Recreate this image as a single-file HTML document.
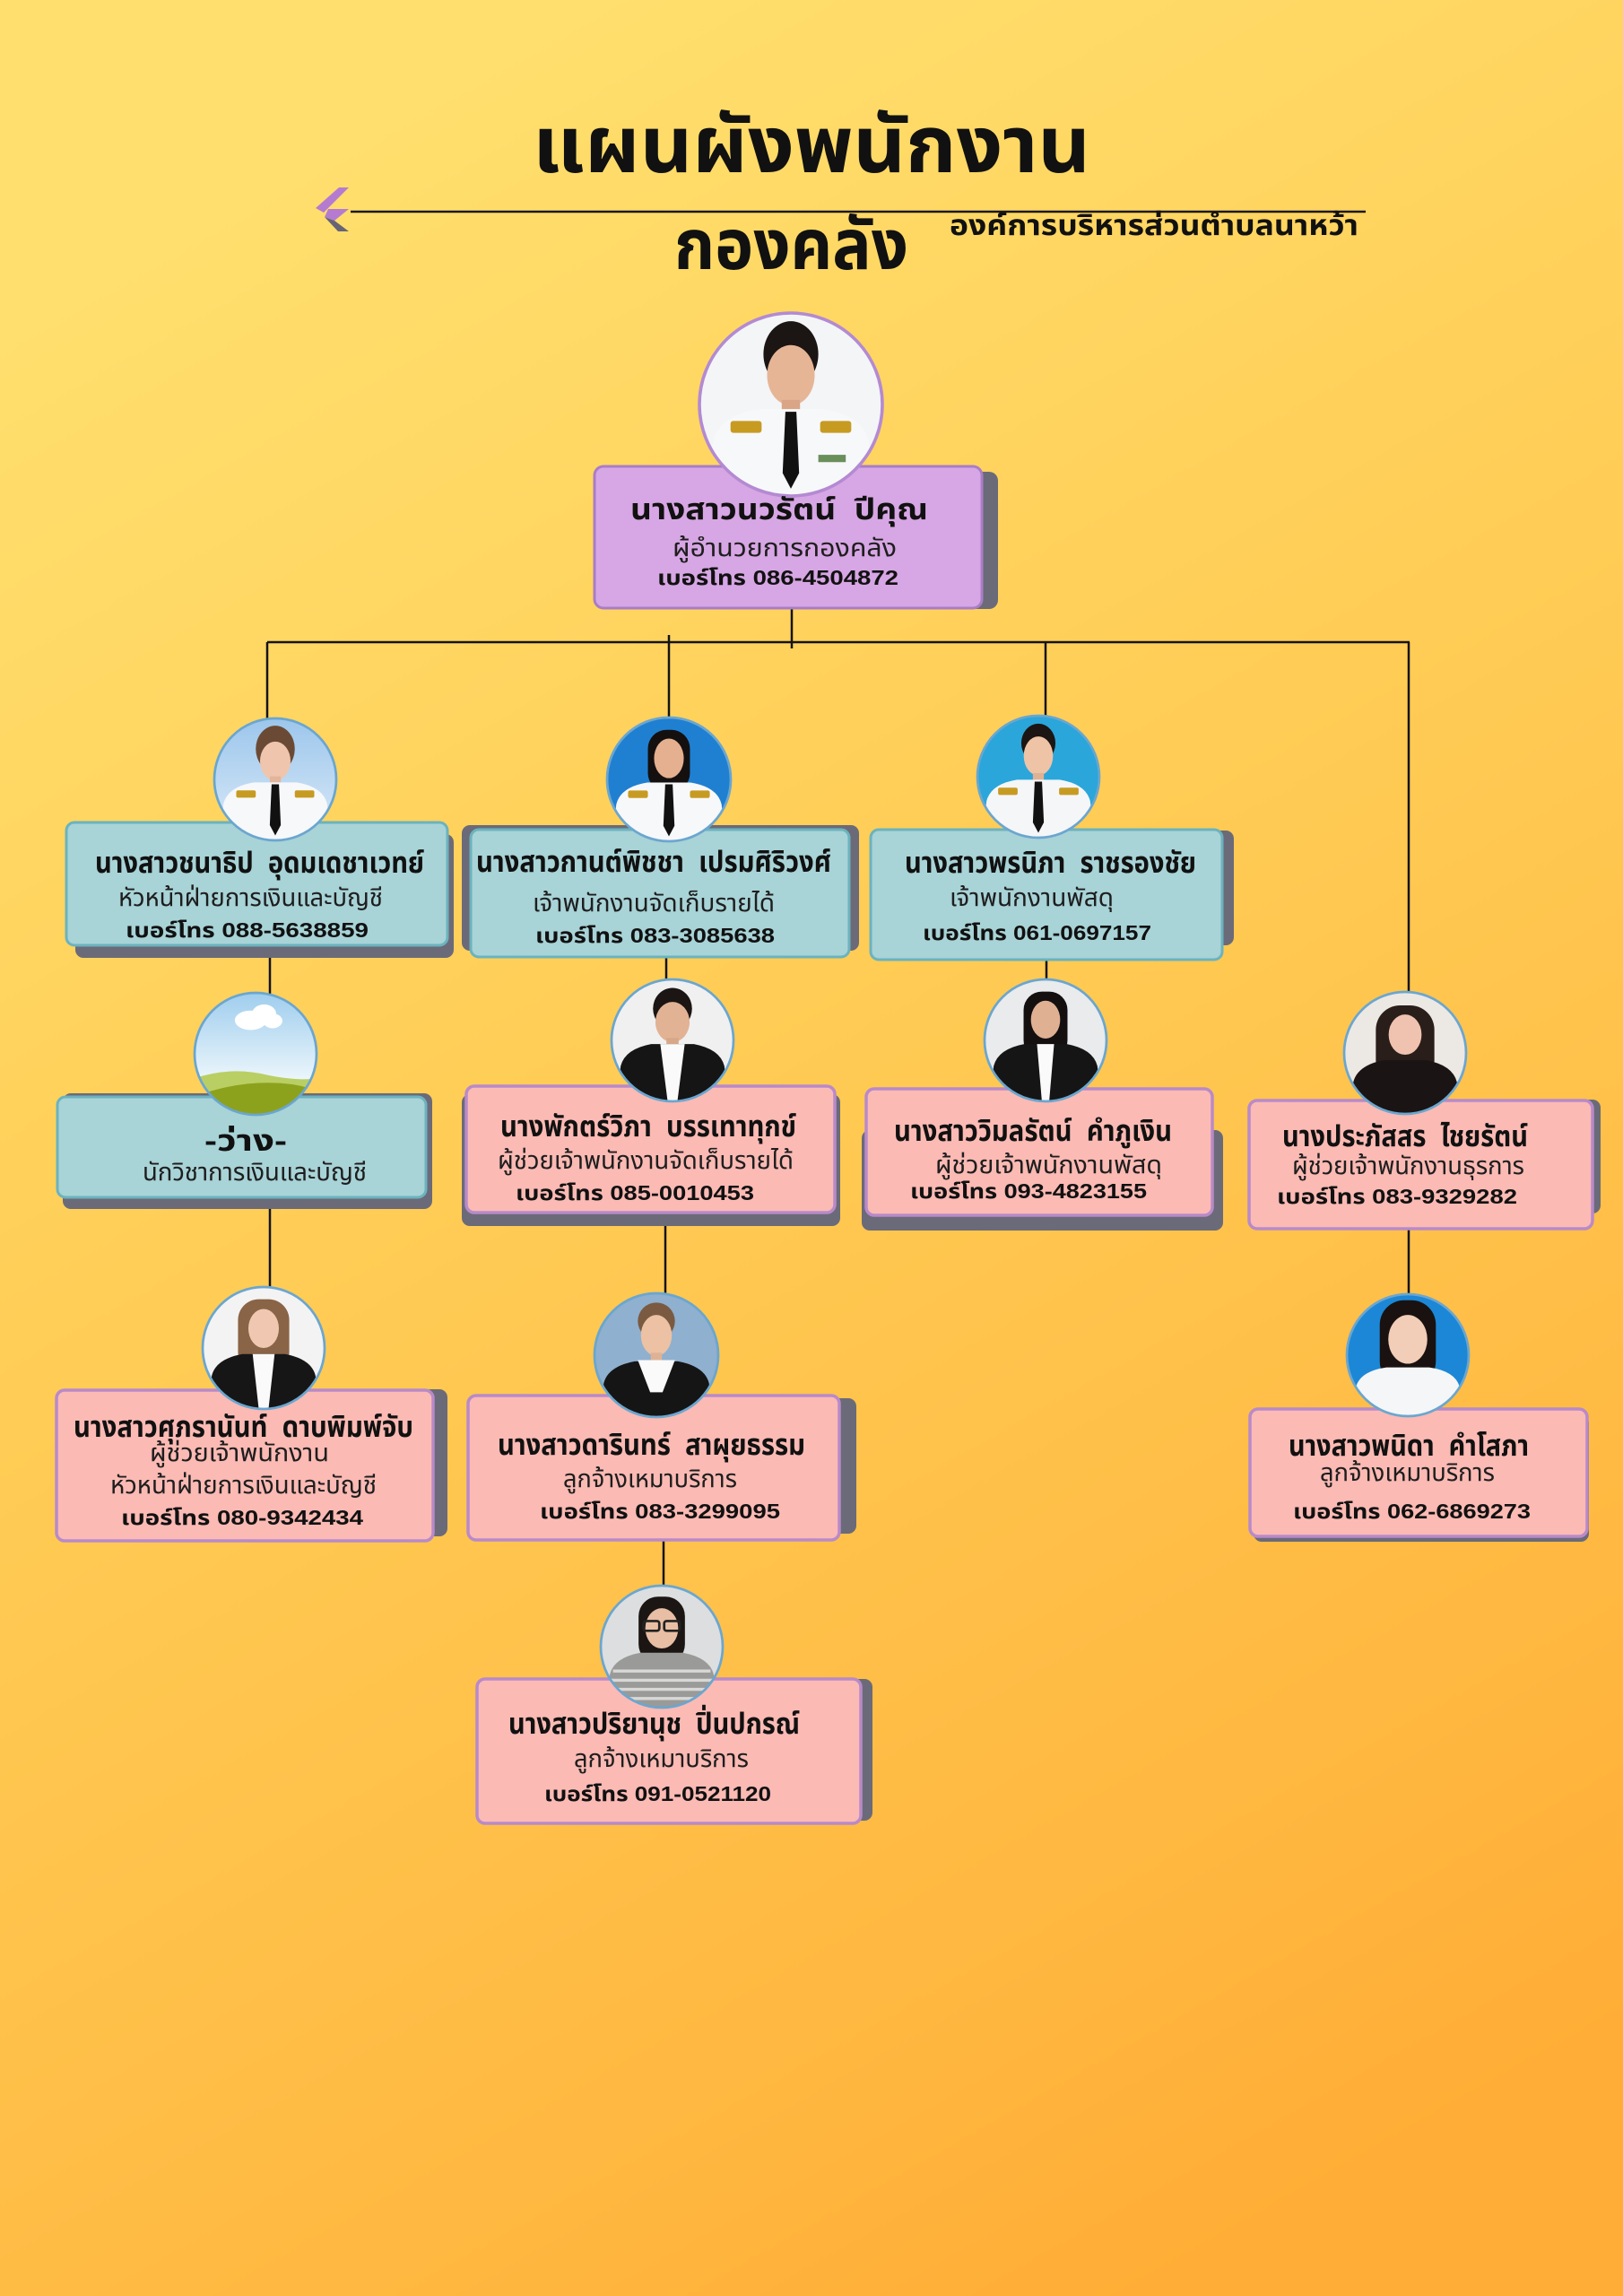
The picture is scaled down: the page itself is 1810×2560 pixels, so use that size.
<!DOCTYPE html>
<html><head><meta charset="utf-8"><style>
html,body{margin:0;padding:0;width:1810px;height:2560px;overflow:hidden;}
svg{display:block}
.t{font-family:"Liberation Sans","Noto Sans Thai","Noto Sans Thai UI","Loma","Garuda","Tlwg Typist","Kinnari","Waree","Sawasdee","Umpush","Norasi","DejaVu Sans",sans-serif;fill:#111;white-space:pre}
.n{font-weight:bold;font-size:33px}
.r{font-weight:normal;font-size:28px;fill:#1e1e1e}
.p{font-weight:bold;font-size:23px}
</style></head><body>
<svg width="1810" height="2560" viewBox="0 0 1810 2560" xmlns="http://www.w3.org/2000/svg">
<defs>
<linearGradient id="bg" x1="0.3" y1="0" x2="0.7" y2="1">
<stop offset="0" stop-color="#FFE06F"/><stop offset="0.4" stop-color="#FFCE57"/><stop offset="0.85" stop-color="#FFB740"/><stop offset="1" stop-color="#FFAD36"/>
</linearGradient>
<linearGradient id="sky" x1="0" y1="0" x2="0" y2="1"><stop offset="0" stop-color="#9fcdee"/><stop offset="0.7" stop-color="#eaf5fb"/></linearGradient>
<linearGradient id="bluebg" x1="0" y1="0" x2="0" y2="1"><stop offset="0" stop-color="#9cc6ec"/><stop offset="1" stop-color="#dcebf8"/></linearGradient>
<clipPath id="c"><circle cx="0" cy="0" r="100"/></clipPath>
</defs>
<rect width="1810" height="2560" fill="url(#bg)"/>

<!-- Title -->
<text class="t" x="594" y="192" font-weight="bold" font-size="88" textLength="622" lengthAdjust="spacingAndGlyphs">แผนผังพนักงาน</text>
<line x1="391" y1="236" x2="1523" y2="236" stroke="#1a1a1a" stroke-width="2.5"/>
<polygon points="378,209 389,209 361,237 352,232" fill="#B57BD0"/>
<polygon points="366,233 389,233 373,246 362,242" fill="#B57BD0"/>
<polygon points="362,242 373,246 389,258 377,258" fill="#676475"/>
<text class="t" x="752" y="300" font-weight="bold" font-size="78" textLength="261" lengthAdjust="spacingAndGlyphs">กองคลัง</text>
<text class="t" x="1059" y="262" font-weight="bold" font-size="32" textLength="456" lengthAdjust="spacingAndGlyphs">องค์การบริหารส่วนตำบลนาหว้า</text>

<!-- Connectors -->
<g stroke="#141414" stroke-width="2.5" fill="none">
<line x1="883" y1="678" x2="883" y2="723"/>
<line x1="298" y1="716" x2="1572" y2="716"/>
<line x1="298" y1="716" x2="298" y2="805"/>
<line x1="746" y1="708" x2="746" y2="805"/>
<line x1="1166" y1="716" x2="1166" y2="800"/>
<line x1="1571" y1="716" x2="1571" y2="1110"/>
<line x1="301" y1="1054" x2="301" y2="1110"/>
<line x1="301" y1="1335" x2="301" y2="1438"/>
<line x1="743" y1="1067" x2="743" y2="1095"/>
<line x1="742" y1="1352" x2="742" y2="1445"/>
<line x1="740" y1="1717" x2="740" y2="1770"/>
<line x1="1167" y1="1070" x2="1167" y2="1095"/>
<line x1="1571" y1="1370" x2="1571" y2="1445"/>
</g>

<!-- Shadows -->
<g fill="#6B6A79">
<rect x="681" y="526" width="432" height="153" rx="10"/>
<rect x="84" y="930" width="422" height="138" rx="9"/>
<rect x="515" y="920" width="443" height="140" rx="9"/>
<rect x="985" y="926" width="391" height="128" rx="9"/>
<rect x="70" y="1219" width="412" height="129" rx="9"/>
<rect x="515" y="1220" width="422" height="147" rx="9"/>
<rect x="961" y="1260" width="403" height="112" rx="9"/>
<rect x="1400" y="1226" width="385" height="127" rx="9"/>
<rect x="70" y="1549" width="429" height="164" rx="9"/>
<rect x="530" y="1559" width="425" height="151" rx="9"/>
<rect x="1398" y="1578" width="374" height="141" rx="9"/>
<rect x="540" y="1872" width="433" height="158" rx="9"/>
</g>

<!-- Boxes -->
<rect x="663" y="520" width="432" height="158" rx="10" fill="#D7A6E4" stroke="#A97DC7" stroke-width="3"/>
<g fill="#A8D3D7" stroke="#6BB3BE" stroke-width="3">
<rect x="74" y="917" width="425" height="137" rx="9"/>
<rect x="525" y="925" width="422" height="142" rx="9"/>
<rect x="971" y="925" width="392" height="145" rx="9"/>
<rect x="64" y="1223" width="411" height="112" rx="9"/>
</g>
<g fill="#FBBAB4" stroke="#B98AC9" stroke-width="3.5">
<rect x="520" y="1211" width="411" height="141" rx="9"/>
<rect x="966" y="1214" width="386" height="141" rx="9"/>
<rect x="1393" y="1227" width="383" height="143" rx="9"/>
<rect x="63" y="1550" width="420" height="168" rx="9"/>
<rect x="522" y="1556" width="414" height="161" rx="9"/>
<rect x="1394" y="1571" width="376" height="142" rx="9"/>
<rect x="532" y="1872" width="428" height="161" rx="9"/>
</g>

<!-- Photos -->
<!-- T -->
<g transform="translate(882,451) scale(1.02)"><g clip-path="url(#c)">
<rect x="-100" y="-100" width="200" height="200" fill="#f3f5f7"/>
<ellipse cx="0" cy="-55" rx="30" ry="36" fill="#1b1513"/>
<ellipse cx="0" cy="-32" rx="26" ry="33" fill="#e6b596"/>
<rect x="-10" y="-5" width="20" height="16" fill="#d9a586"/>
<path d="M-92,100 L-85,40 Q-78,12 -35,5 L35,5 Q78,12 85,40 L92,100Z" fill="#f7f8fa"/>
<path d="M-6,8 L6,8 L9,75 L0,92 L-9,75Z" fill="#111"/>
<rect x="-66" y="18" width="34" height="13" rx="3" fill="#c79b22"/><rect x="32" y="18" width="34" height="13" rx="3" fill="#c79b22"/>
<rect x="30" y="55" width="30" height="8" fill="#6a8f5a"/>
</g><circle r="100" fill="none" stroke="#B48AD2" stroke-width="3.5"/></g>

<!-- A -->
<g transform="translate(307,869) scale(0.68)"><g clip-path="url(#c)">
<rect x="-100" y="-100" width="200" height="200" fill="url(#bluebg)"/>
<ellipse cx="0" cy="-50" rx="32" ry="38" fill="#6b4a35"/>
<ellipse cx="0" cy="-30" rx="25" ry="32" fill="#efc6ad"/>
<rect x="-9" y="-5" width="18" height="16" fill="#e3b59a"/>
<path d="M-92,100 L-85,40 Q-78,12 -35,5 L35,5 Q78,12 85,40 L92,100Z" fill="#f7f8fa"/>
<path d="M-6,8 L6,8 L9,75 L0,92 L-9,75Z" fill="#111"/>
<rect x="-64" y="18" width="32" height="12" rx="3" fill="#c79b22"/><rect x="32" y="18" width="32" height="12" rx="3" fill="#c79b22"/>
</g><circle r="100" fill="none" stroke="#6BA6CF" stroke-width="4"/></g>

<!-- B -->
<g transform="translate(746,869) scale(0.69)"><g clip-path="url(#c)">
<rect x="-100" y="-100" width="200" height="200" fill="#1f80d2"/>
<rect x="-34" y="-80" width="68" height="100" rx="30" fill="#141010"/>
<ellipse cx="0" cy="-34" rx="24" ry="32" fill="#e4b08f"/>
<path d="M-92,100 L-85,40 Q-78,12 -35,5 L35,5 Q78,12 85,40 L92,100Z" fill="#f7f8fa"/>
<path d="M-6,8 L6,8 L9,75 L0,92 L-9,75Z" fill="#111"/>
<rect x="-66" y="18" width="32" height="12" rx="3" fill="#c79b22"/><rect x="34" y="18" width="32" height="12" rx="3" fill="#c79b22"/>
</g><circle r="100" fill="none" stroke="#6BA6CF" stroke-width="4"/></g>

<!-- C -->
<g transform="translate(1158,866) scale(0.68)"><g clip-path="url(#c)">
<rect x="-100" y="-100" width="200" height="200" fill="#2aa6da"/>
<ellipse cx="0" cy="-55" rx="28" ry="32" fill="#1b1513"/>
<ellipse cx="0" cy="-34" rx="24" ry="32" fill="#efc3a6"/>
<rect x="-9" y="-6" width="18" height="16" fill="#e0b295"/>
<path d="M-92,100 L-85,40 Q-78,12 -35,5 L35,5 Q78,12 85,40 L92,100Z" fill="#f5f6f8"/>
<path d="M-6,8 L6,8 L9,75 L0,92 L-9,75Z" fill="#111"/>
<rect x="-66" y="18" width="32" height="12" rx="3" fill="#c79b22"/><rect x="34" y="18" width="32" height="12" rx="3" fill="#c79b22"/>
</g><circle r="100" fill="none" stroke="#6BA6CF" stroke-width="4"/></g>

<!-- V vacant -->
<g transform="translate(285,1175) scale(0.68)"><g clip-path="url(#c)">
<rect x="-100" y="-100" width="200" height="200" fill="url(#sky)"/>
<ellipse cx="-8" cy="-55" rx="26" ry="16" fill="#fff"/><ellipse cx="14" cy="-65" rx="20" ry="16" fill="#fff"/><ellipse cx="28" cy="-54" rx="16" ry="12" fill="#fff"/>
<path d="M-100,40 Q-40,20 20,35 Q70,45 100,40 L100,100 L-100,100Z" fill="#b9cf63"/>
<path d="M-100,70 Q-20,40 60,50 Q90,55 100,62 L100,100 L-100,100Z" fill="#8da21c"/>
</g><circle r="100" fill="none" stroke="#6BA6CF" stroke-width="4"/></g>

<!-- D -->
<g transform="translate(750,1160) scale(0.68)"><g clip-path="url(#c)">
<rect x="-100" y="-100" width="200" height="200" fill="#f0f0f0"/>
<ellipse cx="0" cy="-52" rx="32" ry="34" fill="#1b1513"/>
<ellipse cx="0" cy="-30" rx="28" ry="33" fill="#e2b294"/>
<rect x="-10" y="-4" width="20" height="14" fill="#d8a689"/>
<path d="M-92,100 L-85,42 Q-78,14 -35,6 L35,6 Q78,14 85,42 L92,100Z" fill="#151515"/>
<path d="M-20,6 L20,6 L8,100 L-8,100Z" fill="#fafafa"/>
</g><circle r="100" fill="none" stroke="#6BA6CF" stroke-width="4"/></g>

<!-- E -->
<g transform="translate(1166,1160) scale(0.68)"><g clip-path="url(#c)">
<rect x="-100" y="-100" width="200" height="200" fill="#e9ebec"/>
<rect x="-36" y="-80" width="72" height="110" rx="30" fill="#141010"/>
<ellipse cx="0" cy="-34" rx="24" ry="31" fill="#e0b092"/>
<path d="M-92,100 L-85,42 Q-78,14 -35,6 L35,6 Q78,14 85,42 L92,100Z" fill="#151515"/>
<path d="M-14,6 L14,6 L6,100 L-6,100Z" fill="#fafafa"/>
</g><circle r="100" fill="none" stroke="#6BA6CF" stroke-width="4"/></g>

<!-- F -->
<g transform="translate(1567,1174) scale(0.68)"><g clip-path="url(#c)">
<rect x="-100" y="-100" width="200" height="200" fill="#ece8e4"/>
<rect x="-48" y="-78" width="96" height="130" rx="40" fill="#2a1e1a"/>
<ellipse cx="0" cy="-30" rx="27" ry="33" fill="#f0c3b0"/>
<path d="M-92,100 L-85,48 Q-78,20 -35,12 L35,12 Q78,20 85,48 L92,100Z" fill="#1a1414"/>
</g><circle r="100" fill="none" stroke="#6BA6CF" stroke-width="4"/></g>

<!-- G -->
<g transform="translate(294,1503) scale(0.68)"><g clip-path="url(#c)">
<rect x="-100" y="-100" width="200" height="200" fill="#f3f3f3"/>
<rect x="-42" y="-80" width="84" height="120" rx="34" fill="#8a6446"/>
<ellipse cx="0" cy="-32" rx="25" ry="32" fill="#f0c8b2"/>
<path d="M-92,100 L-85,45 Q-78,18 -35,10 L35,10 Q78,18 85,45 L92,100Z" fill="#161616"/>
<path d="M-18,10 L18,10 L8,100 L-8,100Z" fill="#fafafa"/>
</g><circle r="100" fill="none" stroke="#6BA6CF" stroke-width="4"/></g>

<!-- H -->
<g transform="translate(732,1511) scale(0.69)"><g clip-path="url(#c)">
<rect x="-100" y="-100" width="200" height="200" fill="#8fb0cf"/>
<ellipse cx="0" cy="-55" rx="30" ry="30" fill="#7a5a40"/>
<ellipse cx="0" cy="-32" rx="25" ry="33" fill="#ecc1a4"/>
<rect x="-9" y="-4" width="18" height="14" fill="#dfb295"/>
<path d="M-92,100 L-85,45 Q-78,18 -35,10 L35,10 Q78,18 85,45 L92,100Z" fill="#151515"/>
<path d="M-30,8 L30,8 L10,60 L-10,60Z" fill="#fafafa"/>
</g><circle r="100" fill="none" stroke="#6BA6CF" stroke-width="4"/></g>

<!-- I -->
<g transform="translate(1570,1511) scale(0.68)"><g clip-path="url(#c)">
<rect x="-100" y="-100" width="200" height="200" fill="#1c87d6"/>
<rect x="-46" y="-90" width="92" height="140" rx="40" fill="#1a1210"/>
<ellipse cx="0" cy="-26" rx="32" ry="40" fill="#f2cdb8"/>
<path d="M-92,100 L-85,52 Q-78,26 -35,20 L35,20 Q78,26 85,52 L92,100Z" fill="#f4f6f8"/>
</g><circle r="100" fill="none" stroke="#6BA6CF" stroke-width="4"/></g>

<!-- J -->
<g transform="translate(738,1836) scale(0.68)"><g clip-path="url(#c)">
<rect x="-100" y="-100" width="200" height="200" fill="#dcdee0"/>
<rect x="-38" y="-82" width="76" height="110" rx="32" fill="#1b1513"/>
<ellipse cx="0" cy="-30" rx="27" ry="33" fill="#e8bea4"/>
<rect x="-30" y="-42" width="26" height="16" rx="4" fill="none" stroke="#222" stroke-width="4"/>
<rect x="4" y="-42" width="26" height="16" rx="4" fill="none" stroke="#222" stroke-width="4"/>
<path d="M-92,100 L-85,45 Q-78,18 -35,10 L35,10 Q78,18 85,45 L92,100Z" fill="#9a9a98"/>
<path d="M-80,40 L80,40 M-85,55 L85,55 M-88,70 L88,70 M-90,85 L90,85" stroke="#d8d8d6" stroke-width="5"/>
</g><circle r="100" fill="none" stroke="#6BA6CF" stroke-width="4"/></g>

<!-- Texts -->
<g class="t">
<!-- T -->
<text class="t n" x="703" y="579" font-size="40" textLength="332" lengthAdjust="spacingAndGlyphs">นางสาวนวรัตน์  ปีคุณ</text>
<text class="t r" x="750" y="620" textLength="250" lengthAdjust="spacingAndGlyphs">ผู้อำนวยการกองคลัง</text>
<text class="t p" x="733" y="652" font-size="25" textLength="269" lengthAdjust="spacingAndGlyphs">เบอร์โทร 086-4504872</text>
<!-- A -->
<text class="t n" x="106" y="973" textLength="367" lengthAdjust="spacingAndGlyphs">นางสาวชนาธิป  อุดมเดชาเวทย์</text>
<text class="t r" x="132" y="1010" textLength="295" lengthAdjust="spacingAndGlyphs">หัวหน้าฝ่ายการเงินและบัญชี</text>
<text class="t p" x="140" y="1045" textLength="271" lengthAdjust="spacingAndGlyphs">เบอร์โทร 088-5638859</text>
<!-- B -->
<text class="t n" x="531" y="972" textLength="396" lengthAdjust="spacingAndGlyphs">นางสาวกานต์พิชชา  เปรมศิริวงศ์</text>
<text class="t r" x="594" y="1016" textLength="270" lengthAdjust="spacingAndGlyphs">เจ้าพนักงานจัดเก็บรายได้</text>
<text class="t p" x="597" y="1051" textLength="267" lengthAdjust="spacingAndGlyphs">เบอร์โทร 083-3085638</text>
<!-- C -->
<text class="t n" x="1009" y="973" textLength="325" lengthAdjust="spacingAndGlyphs">นางสาวพรนิภา  ราชรองชัย</text>
<text class="t r" x="1059" y="1010" textLength="183" lengthAdjust="spacingAndGlyphs">เจ้าพนักงานพัสดุ</text>
<text class="t p" x="1029" y="1048" textLength="255" lengthAdjust="spacingAndGlyphs">เบอร์โทร 061-0697157</text>
<!-- V -->
<text class="t n" x="228" y="1283" font-size="40" textLength="92" lengthAdjust="spacingAndGlyphs">-ว่าง-</text>
<text class="t r" x="159" y="1316" textLength="250" lengthAdjust="spacingAndGlyphs">นักวิชาการเงินและบัญชี</text>
<!-- D -->
<text class="t n" x="558" y="1267" textLength="330" lengthAdjust="spacingAndGlyphs">นางพักตร์วิภา  บรรเทาทุกข์</text>
<text class="t r" x="555" y="1303" textLength="330" lengthAdjust="spacingAndGlyphs">ผู้ช่วยเจ้าพนักงานจัดเก็บรายได้</text>
<text class="t p" x="575" y="1338" textLength="266" lengthAdjust="spacingAndGlyphs">เบอร์โทร 085-0010453</text>
<!-- E -->
<text class="t n" x="997" y="1272" textLength="310" lengthAdjust="spacingAndGlyphs">นางสาววิมลรัตน์  คำภูเงิน</text>
<text class="t r" x="1043" y="1308" textLength="253" lengthAdjust="spacingAndGlyphs">ผู้ช่วยเจ้าพนักงานพัสดุ</text>
<text class="t p" x="1015" y="1336" textLength="264" lengthAdjust="spacingAndGlyphs">เบอร์โทร 093-4823155</text>
<!-- F -->
<text class="t n" x="1430" y="1278" textLength="274" lengthAdjust="spacingAndGlyphs">นางประภัสสร  ไชยรัตน์</text>
<text class="t r" x="1441" y="1309" textLength="259" lengthAdjust="spacingAndGlyphs">ผู้ช่วยเจ้าพนักงานธุรการ</text>
<text class="t p" x="1424" y="1342" textLength="268" lengthAdjust="spacingAndGlyphs">เบอร์โทร 083-9329282</text>
<!-- G -->
<text class="t n" x="82" y="1602" textLength="379" lengthAdjust="spacingAndGlyphs">นางสาวศุภรานันท์  ดาบพิมพ์จับ</text>
<text class="t r" x="167" y="1629" textLength="200" lengthAdjust="spacingAndGlyphs">ผู้ช่วยเจ้าพนักงาน</text>
<text class="t r" x="123" y="1665" textLength="297" lengthAdjust="spacingAndGlyphs">หัวหน้าฝ่ายการเงินและบัญชี</text>
<text class="t p" x="135" y="1700" textLength="270" lengthAdjust="spacingAndGlyphs">เบอร์โทร 080-9342434</text>
<!-- H -->
<text class="t n" x="555" y="1622" textLength="343" lengthAdjust="spacingAndGlyphs">นางสาวดารินทร์  สาผุยธรรม</text>
<text class="t r" x="628" y="1658" textLength="194" lengthAdjust="spacingAndGlyphs">ลูกจ้างเหมาบริการ</text>
<text class="t p" x="602" y="1693" textLength="268" lengthAdjust="spacingAndGlyphs">เบอร์โทร 083-3299095</text>
<!-- I -->
<text class="t n" x="1437" y="1623" textLength="268" lengthAdjust="spacingAndGlyphs">นางสาวพนิดา  คำโสภา</text>
<text class="t r" x="1472" y="1651" textLength="195" lengthAdjust="spacingAndGlyphs">ลูกจ้างเหมาบริการ</text>
<text class="t p" x="1442" y="1693" textLength="265" lengthAdjust="spacingAndGlyphs">เบอร์โทร 062-6869273</text>
<!-- J -->
<text class="t n" x="567" y="1933" textLength="325" lengthAdjust="spacingAndGlyphs">นางสาวปริยานุช  ปิ่นปกรณ์</text>
<text class="t r" x="640" y="1970" textLength="195" lengthAdjust="spacingAndGlyphs">ลูกจ้างเหมาบริการ</text>
<text class="t p" x="607" y="2008" textLength="253" lengthAdjust="spacingAndGlyphs">เบอร์โทร 091-0521120</text>
</g>
</svg>
</body></html>
